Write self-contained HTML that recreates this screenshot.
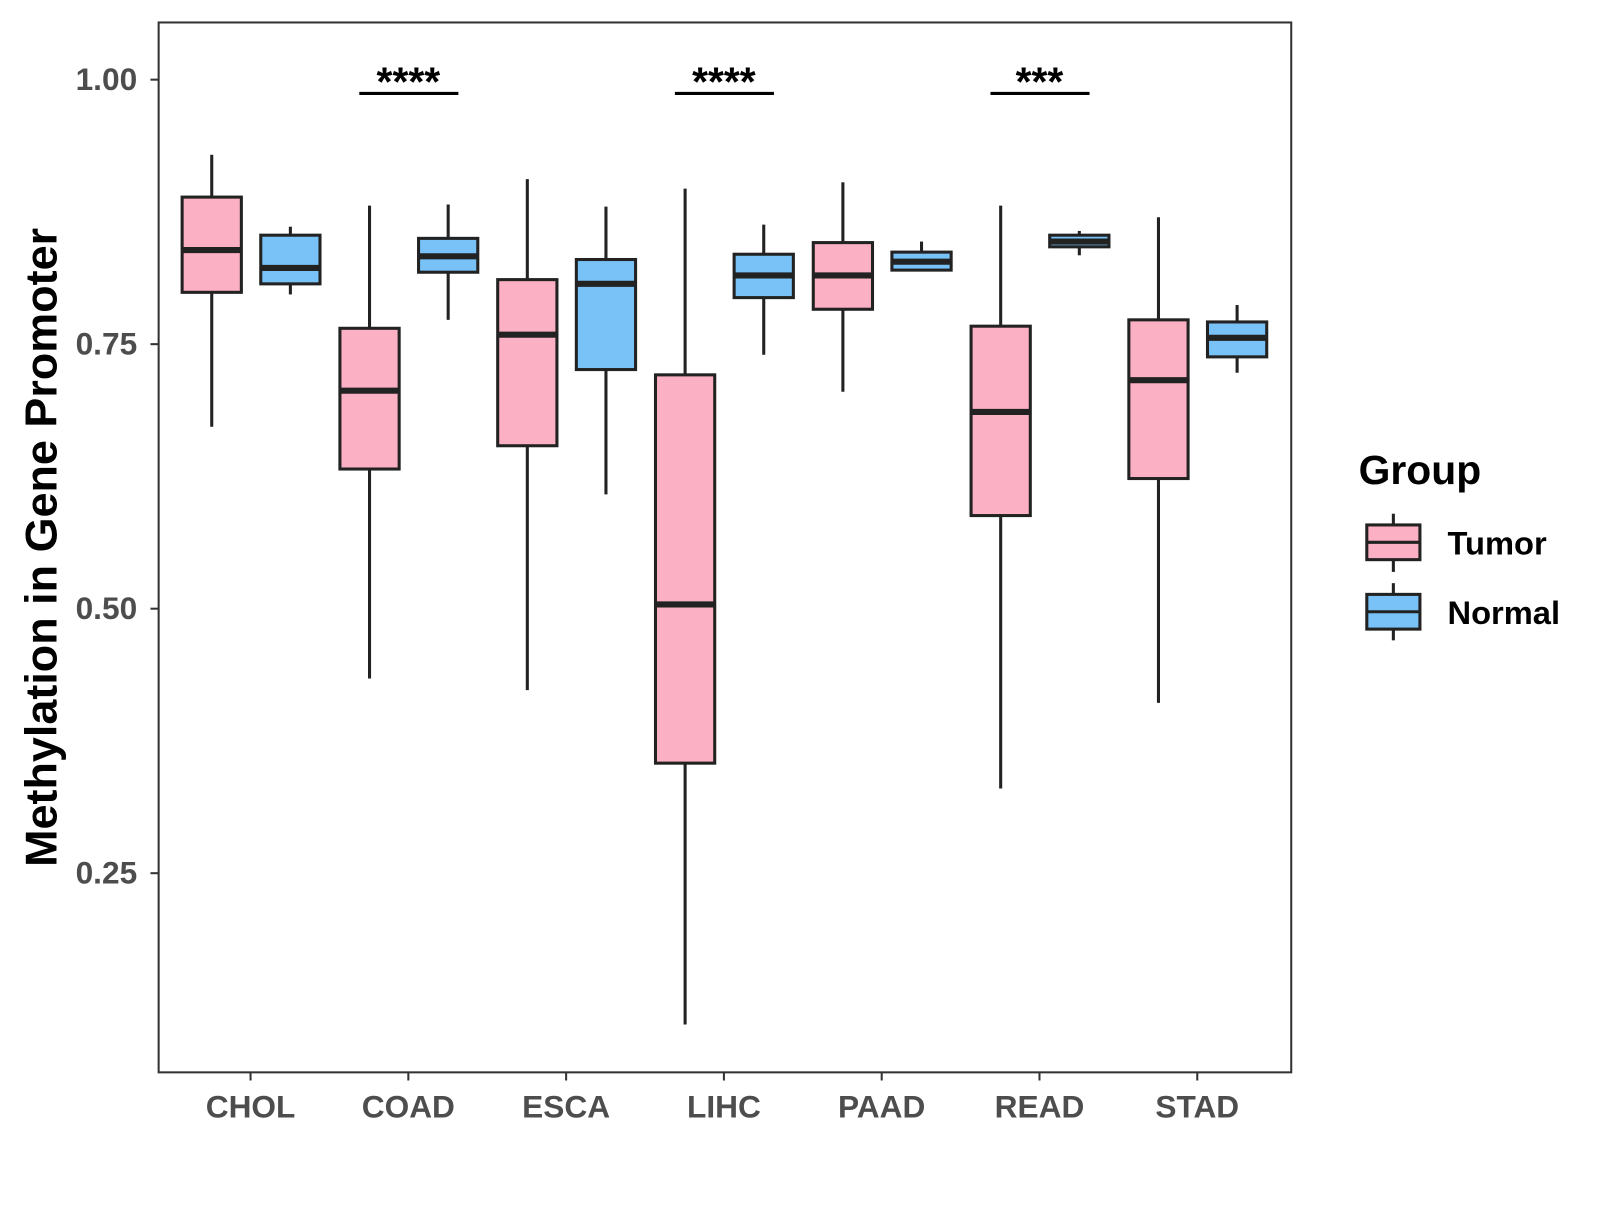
<!DOCTYPE html>
<html><head><meta charset="utf-8"><style>
body{margin:0;background:#fff;}
svg text{font-family:"Liberation Sans",sans-serif;font-weight:bold;}
</style></head><body>
<svg id="chart" width="1600" height="1200" viewBox="0 0 1566 1175" xmlns="http://www.w3.org/2000/svg">
<rect width="1566" height="1175" fill="#fff"/>
<g id="marks"></g>
<rect x="155" y="22" width="1109" height="1028" fill="none" stroke="#333" stroke-width="2"/>
<text transform="translate(55,536) rotate(-90)" text-anchor="middle" font-size="44" fill="#000">Methylation in Gene Promoter</text>
<g>
<text x="1330" y="474" font-size="40" fill="#000">Group</text>
<line x1="1364" y1="503" x2="1364" y2="560" stroke="#222" stroke-width="3"/>
<rect x="1338" y="514" width="52" height="34" fill="#FBB0C3" stroke="#222" stroke-width="3"/>
<line x1="1338" y1="531" x2="1390" y2="531" stroke="#222" stroke-width="3"/>
<text x="1417" y="543" font-size="32" fill="#000">Tumor</text>
<line x1="1364" y1="571" x2="1364" y2="627" stroke="#222" stroke-width="3"/>
<rect x="1338" y="582" width="52" height="34" fill="#78C2F8" stroke="#222" stroke-width="3"/>
<line x1="1338" y1="599" x2="1390" y2="599" stroke="#222" stroke-width="3"/>
<text x="1417" y="611" font-size="32" fill="#000">Normal</text>
</g>
</svg>
<script>
const categories=["CHOL","COAD","ESCA","LIHC","PAAD","READ","STAD"];
const tumorLow=[0.672,0.434,0.423,0.107,0.705,0.330,0.411];
const tumorQ1=[0.799,0.632,0.654,0.354,0.783,0.588,0.623];
const tumorMed=[0.839,0.706,0.759,0.504,0.815,0.686,0.716];
const tumorQ3=[0.889,0.765,0.811,0.721,0.846,0.767,0.773];
const tumorHigh=[0.929,0.881,0.906,0.897,0.903,0.881,0.870];
const normalLow=[0.797,0.773,0.608,0.740,0.820,0.834,0.723];
const normalQ1=[0.807,0.818,0.726,0.794,0.820,0.842,0.738];
const normalMed=[0.822,0.833,0.807,0.815,0.828,0.847,0.756];
const normalQ3=[0.853,0.850,0.830,0.835,0.837,0.853,0.771];
const normalHigh=[0.861,0.882,0.880,0.863,0.847,0.857,0.787];
const yTicks=[0.25,0.50,0.75,1.00];
const yTickLabels=["0.25","0.50","0.75","1.00"];
const sigCategories=["COAD","LIHC","READ"];
const sigLabels=["****","****","***"];
const sigLevel=0.987;

const NS="http://www.w3.org/2000/svg";
const g=document.getElementById('marks');
const svg=document.getElementById('chart');
function y(v){return 78+(1-v)*1036;}
function x(i){return 245+i*154.5;}
function mk(tag,attrs,parent){const e=document.createElementNS(NS,tag);for(const k in attrs)e.setAttribute(k,attrs[k]);(parent||g).appendChild(e);return e;}

yTicks.forEach((t,i)=>{
  const l=mk('line',{x1:147,x2:155,y1:y(t),y2:y(t),stroke:'#333','stroke-width':2},svg);
  
  
  const tx=mk('text',{x:134,y:y(t)+10,'text-anchor':'end','font-size':31,fill:'#4d4d4d'},svg);
  tx.textContent=yTickLabels[i];
  
  
});
categories.forEach((c,i)=>{
  const l=mk('line',{x1:x(i),x2:x(i),y1:1050,y2:1058,stroke:'#333','stroke-width':2},svg);
  
  
  const tx=mk('text',{x:x(i),y:1094,'text-anchor':'middle','font-size':31,fill:'#4d4d4d'},svg);
  tx.textContent=c;
  
  
});
function box(cx,lo,q1,md,q3,hi,fill,name){
  const grp=mk('g',{});
  
  
  mk('line',{x1:cx,x2:cx,y1:y(hi),y2:y(q3),stroke:'#222','stroke-width':3},grp);
  mk('line',{x1:cx,x2:cx,y1:y(q1),y2:y(lo),stroke:'#222','stroke-width':3},grp);
  mk('rect',{x:cx-29,y:y(q3),width:58,height:Math.max(y(q1)-y(q3),1),fill:fill,stroke:'#222','stroke-width':3},grp);
  mk('line',{x1:cx-29,x2:cx+29,y1:y(md),y2:y(md),stroke:'#222','stroke-width':6},grp);
}
categories.forEach((c,i)=>{
  box(x(i)-38,tumorLow[i],tumorQ1[i],tumorMed[i],tumorQ3[i],tumorHigh[i],'#FBB0C3','box-tumor-'+c.toLowerCase());
  box(x(i)+39,normalLow[i],normalQ1[i],normalMed[i],normalQ3[i],normalHigh[i],'#78C2F8','box-normal-'+c.toLowerCase());
});
sigCategories.forEach((c,j)=>{
  const i=categories.indexOf(c);
  const l=mk('line',{x1:x(i)-48,x2:x(i)+49,y1:y(sigLevel),y2:y(sigLevel),stroke:'#000','stroke-width':3});
  
  
  const t=mk('text',{x:x(i),y:y(sigLevel)+2,'text-anchor':'middle','font-size':40,fill:'#000'});
  t.textContent=sigLabels[j];
  
  
});
</script>
</body></html>
